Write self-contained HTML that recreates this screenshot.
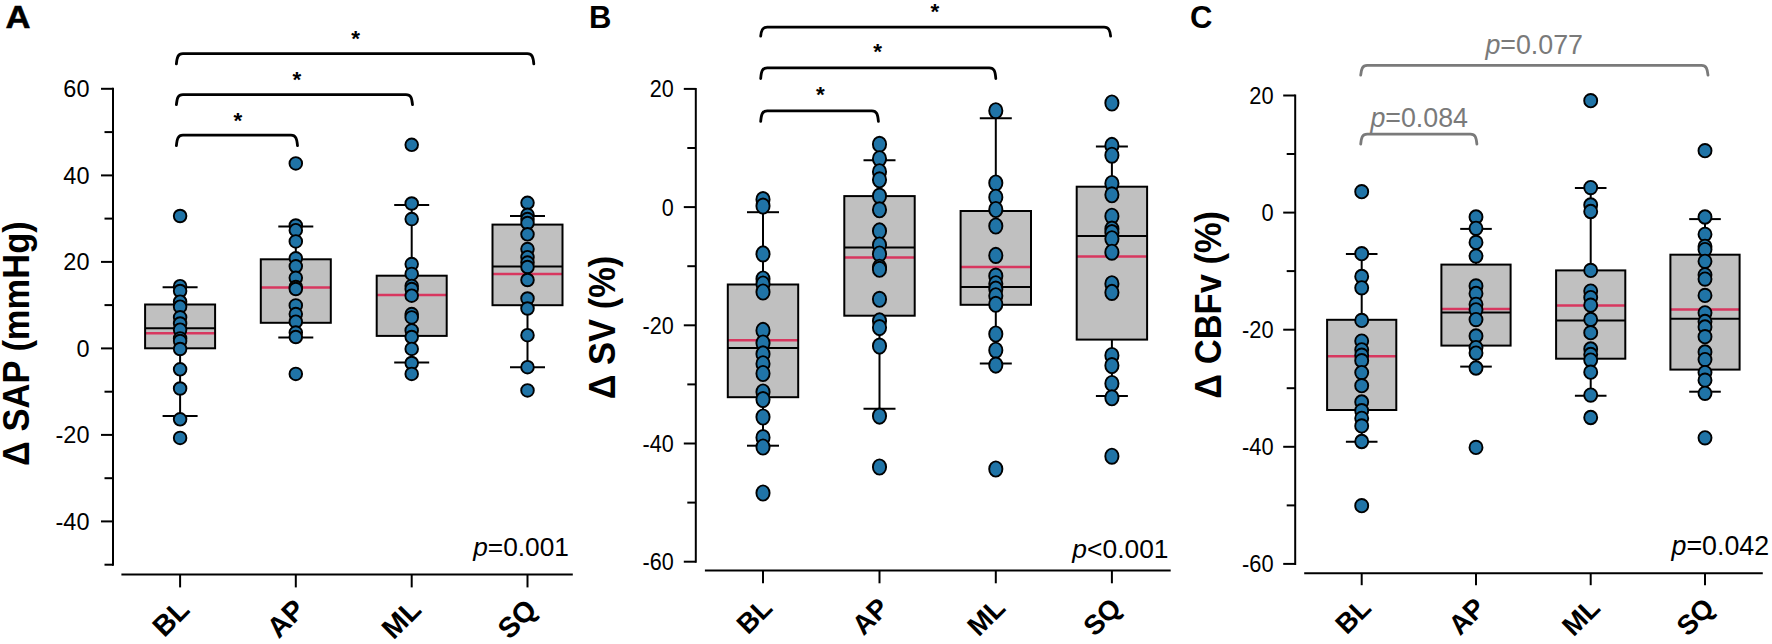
<!DOCTYPE html>
<html><head><meta charset="utf-8"><title>Figure</title>
<style>html,body{margin:0;padding:0;background:#fff;}svg{display:block;}text{font-family:"Liberation Sans", Arial, Helvetica, sans-serif;}</style>
</head><body>
<svg width="1772" height="644" viewBox="0 0 1772 644">
<rect width="1772" height="644" fill="#fff"/>
<text transform="translate(5.5 27.6) scale(1.1 1)" font-size="31.5" font-weight="bold" fill="#000" stroke="#000" stroke-width="0.5">A</text>
<g stroke="#000" stroke-width="2" fill="none">
<line x1="113" y1="87.8" x2="113" y2="565.7"/>
<line x1="104.5" y1="564.7" x2="113" y2="564.7"/>
<line x1="101" y1="521.4" x2="113" y2="521.4"/>
<line x1="104.5" y1="478.2" x2="113" y2="478.2"/>
<line x1="101" y1="434.9" x2="113" y2="434.9"/>
<line x1="104.5" y1="391.7" x2="113" y2="391.7"/>
<line x1="101" y1="348.4" x2="113" y2="348.4"/>
<line x1="104.5" y1="305.1" x2="113" y2="305.1"/>
<line x1="101" y1="261.9" x2="113" y2="261.9"/>
<line x1="104.5" y1="218.6" x2="113" y2="218.6"/>
<line x1="101" y1="175.4" x2="113" y2="175.4"/>
<line x1="104.5" y1="132.1" x2="113" y2="132.1"/>
<line x1="101" y1="88.8" x2="113" y2="88.8"/>
<line x1="121.4" y1="574.4" x2="572.8" y2="574.4"/>
<line x1="180.1" y1="574.4" x2="180.1" y2="587.4"/>
<line x1="295.8" y1="574.4" x2="295.8" y2="587.4"/>
<line x1="411.7" y1="574.4" x2="411.7" y2="587.4"/>
<line x1="527.5" y1="574.4" x2="527.5" y2="587.4"/>
</g>
<text transform="translate(89.5 529.9) scale(1.0 1)" font-size="23.5" text-anchor="end" fill="#000">-40</text>
<text transform="translate(89.5 443.4) scale(1.0 1)" font-size="23.5" text-anchor="end" fill="#000">-20</text>
<text transform="translate(89.5 356.9) scale(1.0 1)" font-size="23.5" text-anchor="end" fill="#000">0</text>
<text transform="translate(89.5 270.4) scale(1.0 1)" font-size="23.5" text-anchor="end" fill="#000">20</text>
<text transform="translate(89.5 183.9) scale(1.0 1)" font-size="23.5" text-anchor="end" fill="#000">40</text>
<text transform="translate(89.5 97.3) scale(1.0 1)" font-size="23.5" text-anchor="end" fill="#000">60</text>
<text transform="translate(28.7 343.6) rotate(-90) scale(0.935 1)" font-size="36.9" font-weight="bold" text-anchor="middle" fill="#000">Δ SAP (mmHg)</text>
<text transform="translate(191.1 611.4) rotate(-45)" font-size="28.5" font-weight="bold" text-anchor="end" fill="#000">BL</text>
<text transform="translate(306.8 611.4) rotate(-45)" font-size="28.5" font-weight="bold" text-anchor="end" fill="#000">AP</text>
<text transform="translate(422.7 611.4) rotate(-45)" font-size="28.5" font-weight="bold" text-anchor="end" fill="#000">ML</text>
<text transform="translate(538.5 611.4) rotate(-45)" font-size="28.5" font-weight="bold" text-anchor="end" fill="#000">SQ</text>
<g stroke="#000" stroke-width="2">
<line x1="180.1" y1="287.2" x2="180.1" y2="304.5"/>
<line x1="180.1" y1="348.3" x2="180.1" y2="415.9"/>
<line x1="162.6" y1="287.2" x2="197.6" y2="287.2"/>
<line x1="162.6" y1="415.9" x2="197.6" y2="415.9"/>
<rect x="145.1" y="304.5" width="70" height="43.8" fill="#c0c0c0" stroke="none"/>
<line x1="145.1" y1="328.2" x2="215.1" y2="328.2"/>
<line x1="145.1" y1="333.2" x2="215.1" y2="333.2" stroke="#d8375f" stroke-width="2.5"/>
<rect x="145.1" y="304.5" width="70" height="43.8" fill="none"/>
</g>
<g stroke="#000" stroke-width="2">
<line x1="295.8" y1="226.5" x2="295.8" y2="259.3"/>
<line x1="295.8" y1="322.8" x2="295.8" y2="337.6"/>
<line x1="278.3" y1="226.5" x2="313.3" y2="226.5"/>
<line x1="278.3" y1="337.6" x2="313.3" y2="337.6"/>
<rect x="260.8" y="259.3" width="70" height="63.5" fill="#c0c0c0" stroke="none"/>
<line x1="260.8" y1="287.6" x2="330.8" y2="287.6" stroke="#d8375f" stroke-width="2.5"/>
<rect x="260.8" y="259.3" width="70" height="63.5" fill="none"/>
</g>
<g stroke="#000" stroke-width="2">
<line x1="411.7" y1="205" x2="411.7" y2="275.7"/>
<line x1="411.7" y1="335.9" x2="411.7" y2="362.6"/>
<line x1="394.2" y1="205" x2="429.2" y2="205"/>
<line x1="394.2" y1="362.6" x2="429.2" y2="362.6"/>
<rect x="376.7" y="275.7" width="70" height="60.2" fill="#c0c0c0" stroke="none"/>
<line x1="376.7" y1="295" x2="446.7" y2="295" stroke="#d8375f" stroke-width="2.5"/>
<rect x="376.7" y="275.7" width="70" height="60.2" fill="none"/>
</g>
<g stroke="#000" stroke-width="2">
<line x1="527.5" y1="215.9" x2="527.5" y2="224.6"/>
<line x1="527.5" y1="305.2" x2="527.5" y2="367.2"/>
<line x1="510" y1="215.9" x2="545" y2="215.9"/>
<line x1="510" y1="367.2" x2="545" y2="367.2"/>
<rect x="492.5" y="224.6" width="70" height="80.6" fill="#c0c0c0" stroke="none"/>
<line x1="492.5" y1="266.5" x2="562.5" y2="266.5"/>
<line x1="492.5" y1="274.1" x2="562.5" y2="274.1" stroke="#d8375f" stroke-width="2.5"/>
<rect x="492.5" y="224.6" width="70" height="80.6" fill="none"/>
</g>
<g fill="#2074a7" stroke="#000" stroke-width="1.9">
<ellipse cx="180.1" cy="216" rx="6.3" ry="6.3"/>
<ellipse cx="180.1" cy="286.2" rx="6.3" ry="6.3"/>
<ellipse cx="180.1" cy="291" rx="6.3" ry="6.3"/>
<ellipse cx="180.1" cy="301.7" rx="6.3" ry="6.3"/>
<ellipse cx="180.1" cy="306.7" rx="6.3" ry="6.3"/>
<ellipse cx="180.1" cy="317.3" rx="6.3" ry="6.3"/>
<ellipse cx="180.1" cy="323.5" rx="6.3" ry="6.3"/>
<ellipse cx="180.1" cy="329.7" rx="6.3" ry="6.3"/>
<ellipse cx="180.1" cy="338.4" rx="6.3" ry="6.3"/>
<ellipse cx="180.1" cy="341" rx="6.3" ry="6.3"/>
<ellipse cx="180.1" cy="349" rx="6.3" ry="6.3"/>
<ellipse cx="180.1" cy="369.3" rx="6.3" ry="6.3"/>
<ellipse cx="180.1" cy="388.5" rx="6.3" ry="6.3"/>
<ellipse cx="180.1" cy="419.3" rx="6.3" ry="6.3"/>
<ellipse cx="180.1" cy="437.9" rx="6.3" ry="6.3"/>
<ellipse cx="295.8" cy="163.4" rx="6.3" ry="6.3"/>
<ellipse cx="295.8" cy="225.5" rx="6.3" ry="6.3"/>
<ellipse cx="295.8" cy="230.2" rx="6.3" ry="6.3"/>
<ellipse cx="295.8" cy="241.4" rx="6.3" ry="6.3"/>
<ellipse cx="295.8" cy="258.3" rx="6.3" ry="6.3"/>
<ellipse cx="295.8" cy="266.3" rx="6.3" ry="6.3"/>
<ellipse cx="295.8" cy="277.8" rx="6.3" ry="6.3"/>
<ellipse cx="295.8" cy="287" rx="6.3" ry="6.3"/>
<ellipse cx="295.8" cy="289" rx="6.3" ry="6.3"/>
<ellipse cx="295.8" cy="305.4" rx="6.3" ry="6.3"/>
<ellipse cx="295.8" cy="314.1" rx="6.3" ry="6.3"/>
<ellipse cx="295.8" cy="321.7" rx="6.3" ry="6.3"/>
<ellipse cx="295.8" cy="332.6" rx="6.3" ry="6.3"/>
<ellipse cx="295.8" cy="337" rx="6.3" ry="6.3"/>
<ellipse cx="295.8" cy="373.9" rx="6.3" ry="6.3"/>
<ellipse cx="411.7" cy="144.8" rx="6.3" ry="6.3"/>
<ellipse cx="411.7" cy="203.5" rx="6.3" ry="6.3"/>
<ellipse cx="411.7" cy="219.1" rx="6.3" ry="6.3"/>
<ellipse cx="411.7" cy="264.1" rx="6.3" ry="6.3"/>
<ellipse cx="411.7" cy="273.9" rx="6.3" ry="6.3"/>
<ellipse cx="411.7" cy="285.9" rx="6.3" ry="6.3"/>
<ellipse cx="411.7" cy="289.1" rx="6.3" ry="6.3"/>
<ellipse cx="411.7" cy="295.7" rx="6.3" ry="6.3"/>
<ellipse cx="411.7" cy="314.1" rx="6.3" ry="6.3"/>
<ellipse cx="411.7" cy="317.4" rx="6.3" ry="6.3"/>
<ellipse cx="411.7" cy="330.4" rx="6.3" ry="6.3"/>
<ellipse cx="411.7" cy="337" rx="6.3" ry="6.3"/>
<ellipse cx="411.7" cy="348.9" rx="6.3" ry="6.3"/>
<ellipse cx="411.7" cy="363" rx="6.3" ry="6.3"/>
<ellipse cx="411.7" cy="373.9" rx="6.3" ry="6.3"/>
<ellipse cx="527.5" cy="202.8" rx="6.3" ry="6.3"/>
<ellipse cx="527.5" cy="214.8" rx="6.3" ry="6.3"/>
<ellipse cx="527.5" cy="219.1" rx="6.3" ry="6.3"/>
<ellipse cx="527.5" cy="223" rx="6.3" ry="6.3"/>
<ellipse cx="527.5" cy="234.3" rx="6.3" ry="6.3"/>
<ellipse cx="527.5" cy="249.1" rx="6.3" ry="6.3"/>
<ellipse cx="527.5" cy="257.2" rx="6.3" ry="6.3"/>
<ellipse cx="527.5" cy="262.6" rx="6.3" ry="6.3"/>
<ellipse cx="527.5" cy="267" rx="6.3" ry="6.3"/>
<ellipse cx="527.5" cy="280" rx="6.3" ry="6.3"/>
<ellipse cx="527.5" cy="298.5" rx="6.3" ry="6.3"/>
<ellipse cx="527.5" cy="308.5" rx="6.3" ry="6.3"/>
<ellipse cx="527.5" cy="335.2" rx="6.3" ry="6.3"/>
<ellipse cx="527.5" cy="367.2" rx="6.3" ry="6.3"/>
<ellipse cx="527.5" cy="390.4" rx="6.3" ry="6.3"/>
</g>
<path d="M176.4 145.7 C177 138.7 178 135.2 182.9 135.2 L291 135.2 C295.9 135.2 296.9 138.7 297.5 145.7" fill="none" stroke="#000" stroke-width="2.8" stroke-linecap="round"/>
<text x="237.8" y="128.4" font-size="22.5" font-weight="bold" text-anchor="middle" fill="#000">*</text>
<path d="M176.4 104.6 C177 98.1 178 94.6 182.9 94.6 L406 94.6 C410.9 94.6 411.9 98.1 412.5 104.6" fill="none" stroke="#000" stroke-width="2.8" stroke-linecap="round"/>
<text x="296.8" y="86.9" font-size="22.5" font-weight="bold" text-anchor="middle" fill="#000">*</text>
<path d="M176.4 63.8 C177 57.2 178 53.7 182.9 53.7 L527.3 53.7 C532.2 53.7 533.2 57.2 533.8 63.8" fill="none" stroke="#000" stroke-width="2.8" stroke-linecap="round"/>
<text x="355.7" y="46.4" font-size="22.5" font-weight="bold" text-anchor="middle" fill="#000">*</text>
<text x="569" y="555.9" font-size="26.3" text-anchor="end" fill="#000"><tspan font-style="italic">p</tspan>=0.001</text>
<text x="589" y="28" font-size="31" font-weight="bold" fill="#000">B</text>
<g stroke="#000" stroke-width="2" fill="none">
<line x1="695.8" y1="87.9" x2="695.8" y2="562.7"/>
<line x1="683.8" y1="561.7" x2="695.8" y2="561.7"/>
<line x1="687.3" y1="502.6" x2="695.8" y2="502.6"/>
<line x1="683.8" y1="443.5" x2="695.8" y2="443.5"/>
<line x1="687.3" y1="384.4" x2="695.8" y2="384.4"/>
<line x1="683.8" y1="325.3" x2="695.8" y2="325.3"/>
<line x1="687.3" y1="266.2" x2="695.8" y2="266.2"/>
<line x1="683.8" y1="207.1" x2="695.8" y2="207.1"/>
<line x1="687.3" y1="148" x2="695.8" y2="148"/>
<line x1="683.8" y1="88.9" x2="695.8" y2="88.9"/>
<line x1="704.9" y1="570.5" x2="1170.7" y2="570.5"/>
<line x1="763" y1="570.5" x2="763" y2="583.3"/>
<line x1="879.5" y1="570.5" x2="879.5" y2="583.3"/>
<line x1="995.8" y1="570.5" x2="995.8" y2="583.3"/>
<line x1="1111.9" y1="570.5" x2="1111.9" y2="583.3"/>
</g>
<text transform="translate(673.8 570.2) scale(0.92 1)" font-size="23.5" text-anchor="end" fill="#000">-60</text>
<text transform="translate(673.8 452) scale(0.92 1)" font-size="23.5" text-anchor="end" fill="#000">-40</text>
<text transform="translate(673.8 333.8) scale(0.92 1)" font-size="23.5" text-anchor="end" fill="#000">-20</text>
<text transform="translate(673.8 215.6) scale(0.92 1)" font-size="23.5" text-anchor="end" fill="#000">0</text>
<text transform="translate(673.8 97.4) scale(0.92 1)" font-size="23.5" text-anchor="end" fill="#000">20</text>
<text transform="translate(614.7 327.5) rotate(-90) scale(0.935 1)" font-size="36.9" font-weight="bold" text-anchor="middle" fill="#000">Δ SV (%)</text>
<text transform="translate(774 609.5) rotate(-45)" font-size="27.5" font-weight="bold" text-anchor="end" fill="#000">BL</text>
<text transform="translate(890.5 609.5) rotate(-45)" font-size="27.5" font-weight="bold" text-anchor="end" fill="#000">AP</text>
<text transform="translate(1006.8 609.5) rotate(-45)" font-size="27.5" font-weight="bold" text-anchor="end" fill="#000">ML</text>
<text transform="translate(1122.9 609.5) rotate(-45)" font-size="27.5" font-weight="bold" text-anchor="end" fill="#000">SQ</text>
<g stroke="#000" stroke-width="2">
<line x1="763" y1="212.2" x2="763" y2="284.5"/>
<line x1="763" y1="397.2" x2="763" y2="445.7"/>
<line x1="747" y1="212.2" x2="779" y2="212.2"/>
<line x1="747" y1="445.7" x2="779" y2="445.7"/>
<rect x="727.8" y="284.5" width="70.4" height="112.7" fill="#c0c0c0" stroke="none"/>
<line x1="727.8" y1="348" x2="798.2" y2="348"/>
<line x1="727.8" y1="340.2" x2="798.2" y2="340.2" stroke="#d8375f" stroke-width="2.5"/>
<rect x="727.8" y="284.5" width="70.4" height="112.7" fill="none"/>
</g>
<g stroke="#000" stroke-width="2">
<line x1="879.5" y1="160.2" x2="879.5" y2="196.1"/>
<line x1="879.5" y1="315.7" x2="879.5" y2="408.7"/>
<line x1="863.5" y1="160.2" x2="895.5" y2="160.2"/>
<line x1="863.5" y1="408.7" x2="895.5" y2="408.7"/>
<rect x="844.3" y="196.1" width="70.4" height="119.6" fill="#c0c0c0" stroke="none"/>
<line x1="844.3" y1="247.6" x2="914.7" y2="247.6"/>
<line x1="844.3" y1="257.4" x2="914.7" y2="257.4" stroke="#d8375f" stroke-width="2.5"/>
<rect x="844.3" y="196.1" width="70.4" height="119.6" fill="none"/>
</g>
<g stroke="#000" stroke-width="2">
<line x1="995.8" y1="118.3" x2="995.8" y2="211"/>
<line x1="995.8" y1="304.8" x2="995.8" y2="363.6"/>
<line x1="979.8" y1="118.3" x2="1011.8" y2="118.3"/>
<line x1="979.8" y1="363.6" x2="1011.8" y2="363.6"/>
<rect x="960.6" y="211" width="70.4" height="93.8" fill="#c0c0c0" stroke="none"/>
<line x1="960.6" y1="287" x2="1031" y2="287"/>
<line x1="960.6" y1="267" x2="1031" y2="267" stroke="#d8375f" stroke-width="2.5"/>
<rect x="960.6" y="211" width="70.4" height="93.8" fill="none"/>
</g>
<g stroke="#000" stroke-width="2">
<line x1="1111.9" y1="146.5" x2="1111.9" y2="186.7"/>
<line x1="1111.9" y1="339.6" x2="1111.9" y2="396.1"/>
<line x1="1095.9" y1="146.5" x2="1127.9" y2="146.5"/>
<line x1="1095.9" y1="396.1" x2="1127.9" y2="396.1"/>
<rect x="1076.7" y="186.7" width="70.4" height="152.9" fill="#c0c0c0" stroke="none"/>
<line x1="1076.7" y1="235.9" x2="1147.1" y2="235.9"/>
<line x1="1076.7" y1="256.5" x2="1147.1" y2="256.5" stroke="#d8375f" stroke-width="2.5"/>
<rect x="1076.7" y="186.7" width="70.4" height="152.9" fill="none"/>
</g>
<g fill="#2074a7" stroke="#000" stroke-width="1.9">
<ellipse cx="763" cy="199.6" rx="6.6" ry="7.6"/>
<ellipse cx="763" cy="206.1" rx="6.6" ry="7.6"/>
<ellipse cx="763" cy="253.9" rx="6.6" ry="7.6"/>
<ellipse cx="763" cy="279" rx="6.6" ry="7.6"/>
<ellipse cx="763" cy="284" rx="6.6" ry="7.6"/>
<ellipse cx="763" cy="292" rx="6.6" ry="7.6"/>
<ellipse cx="763" cy="330.4" rx="6.6" ry="7.6"/>
<ellipse cx="763" cy="343" rx="6.6" ry="7.6"/>
<ellipse cx="763" cy="353.9" rx="6.6" ry="7.6"/>
<ellipse cx="763" cy="363.7" rx="6.6" ry="7.6"/>
<ellipse cx="763" cy="373.5" rx="6.6" ry="7.6"/>
<ellipse cx="763" cy="392" rx="6.6" ry="7.6"/>
<ellipse cx="763" cy="399.6" rx="6.6" ry="7.6"/>
<ellipse cx="763" cy="417" rx="6.6" ry="7.6"/>
<ellipse cx="763" cy="437.6" rx="6.6" ry="7.6"/>
<ellipse cx="763" cy="447" rx="6.6" ry="7.6"/>
<ellipse cx="763" cy="493" rx="6.6" ry="7.6"/>
<ellipse cx="879.5" cy="144.3" rx="6.6" ry="7.6"/>
<ellipse cx="879.5" cy="158.7" rx="6.6" ry="7.6"/>
<ellipse cx="879.5" cy="171.7" rx="6.6" ry="7.6"/>
<ellipse cx="879.5" cy="179.8" rx="6.6" ry="7.6"/>
<ellipse cx="879.5" cy="196.1" rx="6.6" ry="7.6"/>
<ellipse cx="879.5" cy="209.8" rx="6.6" ry="7.6"/>
<ellipse cx="879.5" cy="230.9" rx="6.6" ry="7.6"/>
<ellipse cx="879.5" cy="245" rx="6.6" ry="7.6"/>
<ellipse cx="879.5" cy="254" rx="6.6" ry="7.6"/>
<ellipse cx="879.5" cy="267.2" rx="6.6" ry="7.6"/>
<ellipse cx="879.5" cy="269.3" rx="6.6" ry="7.6"/>
<ellipse cx="879.5" cy="299.3" rx="6.6" ry="7.6"/>
<ellipse cx="879.5" cy="320.9" rx="6.6" ry="7.6"/>
<ellipse cx="879.5" cy="327.6" rx="6.6" ry="7.6"/>
<ellipse cx="879.5" cy="346.1" rx="6.6" ry="7.6"/>
<ellipse cx="879.5" cy="416.1" rx="6.6" ry="7.6"/>
<ellipse cx="879.5" cy="467" rx="6.6" ry="7.6"/>
<ellipse cx="995.8" cy="110.7" rx="6.6" ry="7.6"/>
<ellipse cx="995.8" cy="183" rx="6.6" ry="7.6"/>
<ellipse cx="995.8" cy="197.2" rx="6.6" ry="7.6"/>
<ellipse cx="995.8" cy="209.5" rx="6.6" ry="7.6"/>
<ellipse cx="995.8" cy="226" rx="6.6" ry="7.6"/>
<ellipse cx="995.8" cy="255.4" rx="6.6" ry="7.6"/>
<ellipse cx="995.8" cy="276.1" rx="6.6" ry="7.6"/>
<ellipse cx="995.8" cy="283.7" rx="6.6" ry="7.6"/>
<ellipse cx="995.8" cy="289.1" rx="6.6" ry="7.6"/>
<ellipse cx="995.8" cy="295.7" rx="6.6" ry="7.6"/>
<ellipse cx="995.8" cy="304.3" rx="6.6" ry="7.6"/>
<ellipse cx="995.8" cy="334" rx="6.6" ry="7.6"/>
<ellipse cx="995.8" cy="350.2" rx="6.6" ry="7.6"/>
<ellipse cx="995.8" cy="365.1" rx="6.6" ry="7.6"/>
<ellipse cx="995.8" cy="469" rx="6.6" ry="7.6"/>
<ellipse cx="1111.9" cy="103" rx="6.6" ry="7.6"/>
<ellipse cx="1111.9" cy="145.4" rx="6.6" ry="7.6"/>
<ellipse cx="1111.9" cy="155.2" rx="6.6" ry="7.6"/>
<ellipse cx="1111.9" cy="183.5" rx="6.6" ry="7.6"/>
<ellipse cx="1111.9" cy="194.8" rx="6.6" ry="7.6"/>
<ellipse cx="1111.9" cy="216.2" rx="6.6" ry="7.6"/>
<ellipse cx="1111.9" cy="229.1" rx="6.6" ry="7.6"/>
<ellipse cx="1111.9" cy="232.6" rx="6.6" ry="7.6"/>
<ellipse cx="1111.9" cy="238.7" rx="6.6" ry="7.6"/>
<ellipse cx="1111.9" cy="252.2" rx="6.6" ry="7.6"/>
<ellipse cx="1111.9" cy="283.7" rx="6.6" ry="7.6"/>
<ellipse cx="1111.9" cy="292.4" rx="6.6" ry="7.6"/>
<ellipse cx="1111.9" cy="355.5" rx="6.6" ry="7.6"/>
<ellipse cx="1111.9" cy="365.6" rx="6.6" ry="7.6"/>
<ellipse cx="1111.9" cy="383.5" rx="6.6" ry="7.6"/>
<ellipse cx="1111.9" cy="397.8" rx="6.6" ry="7.6"/>
<ellipse cx="1111.9" cy="456.2" rx="6.6" ry="7.6"/>
</g>
<path d="M760.7 121.4 C761.3 114.4 762.3 110.9 767.2 110.9 L871.9 110.9 C876.8 110.9 877.8 114.4 878.4 121.4" fill="none" stroke="#000" stroke-width="2.8" stroke-linecap="round"/>
<text x="820.4" y="102.4" font-size="22.5" font-weight="bold" text-anchor="middle" fill="#000">*</text>
<path d="M760.7 78.5 C761.3 71.3 762.3 67.8 767.2 67.8 L989.3 67.8 C994.2 67.8 995.2 71.3 995.8 78.5" fill="none" stroke="#000" stroke-width="2.8" stroke-linecap="round"/>
<text x="877.6" y="59.4" font-size="22.5" font-weight="bold" text-anchor="middle" fill="#000">*</text>
<path d="M760.7 36.2 C761.3 30.7 762.3 27.2 767.2 27.2 L1104.1 27.2 C1109 27.2 1110 30.7 1110.6 36.2" fill="none" stroke="#000" stroke-width="2.8" stroke-linecap="round"/>
<text x="935" y="18.9" font-size="22.5" font-weight="bold" text-anchor="middle" fill="#000">*</text>
<text x="1168.5" y="557.9" font-size="26.4" text-anchor="end" fill="#000"><tspan font-style="italic">p</tspan>&lt;0.001</text>
<text x="1190" y="28" font-size="31" font-weight="bold" fill="#000">C</text>
<g stroke="#000" stroke-width="2" fill="none">
<line x1="1295.2" y1="94.5" x2="1295.2" y2="564.9"/>
<line x1="1283.2" y1="563.9" x2="1295.2" y2="563.9"/>
<line x1="1286.7" y1="505.4" x2="1295.2" y2="505.4"/>
<line x1="1283.2" y1="446.8" x2="1295.2" y2="446.8"/>
<line x1="1286.7" y1="388.2" x2="1295.2" y2="388.2"/>
<line x1="1283.2" y1="329.7" x2="1295.2" y2="329.7"/>
<line x1="1286.7" y1="271.1" x2="1295.2" y2="271.1"/>
<line x1="1283.2" y1="212.6" x2="1295.2" y2="212.6"/>
<line x1="1286.7" y1="154" x2="1295.2" y2="154"/>
<line x1="1283.2" y1="95.5" x2="1295.2" y2="95.5"/>
<line x1="1304.2" y1="573.2" x2="1762.8" y2="573.2"/>
<line x1="1361.7" y1="573.2" x2="1361.7" y2="585.2"/>
<line x1="1476" y1="573.2" x2="1476" y2="585.2"/>
<line x1="1590.7" y1="573.2" x2="1590.7" y2="585.2"/>
<line x1="1705" y1="573.2" x2="1705" y2="585.2"/>
</g>
<text transform="translate(1273.6 572.4) scale(0.93 1)" font-size="23.5" text-anchor="end" fill="#000">-60</text>
<text transform="translate(1273.6 455.3) scale(0.93 1)" font-size="23.5" text-anchor="end" fill="#000">-40</text>
<text transform="translate(1273.6 338.2) scale(0.93 1)" font-size="23.5" text-anchor="end" fill="#000">-20</text>
<text transform="translate(1273.6 221.1) scale(0.93 1)" font-size="23.5" text-anchor="end" fill="#000">0</text>
<text transform="translate(1273.6 104) scale(0.93 1)" font-size="23.5" text-anchor="end" fill="#000">20</text>
<text transform="translate(1220.6 304.8) rotate(-90) scale(0.935 1)" font-size="36.9" font-weight="bold" text-anchor="middle" fill="#000">Δ CBFv (%)</text>
<text transform="translate(1372.7 609.5) rotate(-45)" font-size="27.5" font-weight="bold" text-anchor="end" fill="#000">BL</text>
<text transform="translate(1487 609.5) rotate(-45)" font-size="27.5" font-weight="bold" text-anchor="end" fill="#000">AP</text>
<text transform="translate(1601.7 609.5) rotate(-45)" font-size="27.5" font-weight="bold" text-anchor="end" fill="#000">ML</text>
<text transform="translate(1716 609.5) rotate(-45)" font-size="27.5" font-weight="bold" text-anchor="end" fill="#000">SQ</text>
<g stroke="#000" stroke-width="2">
<line x1="1361.7" y1="254.1" x2="1361.7" y2="319.8"/>
<line x1="1361.7" y1="410" x2="1361.7" y2="441.7"/>
<line x1="1345.9" y1="254.1" x2="1377.5" y2="254.1"/>
<line x1="1345.9" y1="441.7" x2="1377.5" y2="441.7"/>
<rect x="1327.1" y="319.8" width="69.2" height="90.2" fill="#c0c0c0" stroke="none"/>
<line x1="1327.1" y1="356.3" x2="1396.3" y2="356.3" stroke="#d8375f" stroke-width="2.5"/>
<rect x="1327.1" y="319.8" width="69.2" height="90.2" fill="none"/>
</g>
<g stroke="#000" stroke-width="2">
<line x1="1476" y1="228.9" x2="1476" y2="264.6"/>
<line x1="1476" y1="345.6" x2="1476" y2="366.6"/>
<line x1="1460.2" y1="228.9" x2="1491.8" y2="228.9"/>
<line x1="1460.2" y1="366.6" x2="1491.8" y2="366.6"/>
<rect x="1441.4" y="264.6" width="69.2" height="81" fill="#c0c0c0" stroke="none"/>
<line x1="1441.4" y1="312.6" x2="1510.6" y2="312.6"/>
<line x1="1441.4" y1="308.9" x2="1510.6" y2="308.9" stroke="#d8375f" stroke-width="2.5"/>
<rect x="1441.4" y="264.6" width="69.2" height="81" fill="none"/>
</g>
<g stroke="#000" stroke-width="2">
<line x1="1590.7" y1="188" x2="1590.7" y2="270.4"/>
<line x1="1590.7" y1="358.7" x2="1590.7" y2="395.7"/>
<line x1="1574.9" y1="188" x2="1606.5" y2="188"/>
<line x1="1574.9" y1="395.7" x2="1606.5" y2="395.7"/>
<rect x="1556.1" y="270.4" width="69.2" height="88.3" fill="#c0c0c0" stroke="none"/>
<line x1="1556.1" y1="320.5" x2="1625.3" y2="320.5"/>
<line x1="1556.1" y1="305.6" x2="1625.3" y2="305.6" stroke="#d8375f" stroke-width="2.5"/>
<rect x="1556.1" y="270.4" width="69.2" height="88.3" fill="none"/>
</g>
<g stroke="#000" stroke-width="2">
<line x1="1705" y1="219.1" x2="1705" y2="254.7"/>
<line x1="1705" y1="369.6" x2="1705" y2="391.7"/>
<line x1="1689.2" y1="219.1" x2="1720.8" y2="219.1"/>
<line x1="1689.2" y1="391.7" x2="1720.8" y2="391.7"/>
<rect x="1670.4" y="254.7" width="69.2" height="114.9" fill="#c0c0c0" stroke="none"/>
<line x1="1670.4" y1="318.7" x2="1739.6" y2="318.7"/>
<line x1="1670.4" y1="309.6" x2="1739.6" y2="309.6" stroke="#d8375f" stroke-width="2.5"/>
<rect x="1670.4" y="254.7" width="69.2" height="114.9" fill="none"/>
</g>
<g fill="#2074a7" stroke="#000" stroke-width="1.9">
<ellipse cx="1361.7" cy="191.7" rx="6.5" ry="6.7"/>
<ellipse cx="1361.7" cy="253.7" rx="6.5" ry="6.7"/>
<ellipse cx="1361.7" cy="276.5" rx="6.5" ry="6.7"/>
<ellipse cx="1361.7" cy="287.8" rx="6.5" ry="6.7"/>
<ellipse cx="1361.7" cy="320.4" rx="6.5" ry="6.7"/>
<ellipse cx="1361.7" cy="341.1" rx="6.5" ry="6.7"/>
<ellipse cx="1361.7" cy="349.8" rx="6.5" ry="6.7"/>
<ellipse cx="1361.7" cy="355.2" rx="6.5" ry="6.7"/>
<ellipse cx="1361.7" cy="360.7" rx="6.5" ry="6.7"/>
<ellipse cx="1361.7" cy="372.6" rx="6.5" ry="6.7"/>
<ellipse cx="1361.7" cy="385.7" rx="6.5" ry="6.7"/>
<ellipse cx="1361.7" cy="402" rx="6.5" ry="6.7"/>
<ellipse cx="1361.7" cy="410.7" rx="6.5" ry="6.7"/>
<ellipse cx="1361.7" cy="418.3" rx="6.5" ry="6.7"/>
<ellipse cx="1361.7" cy="425.9" rx="6.5" ry="6.7"/>
<ellipse cx="1361.7" cy="441.5" rx="6.5" ry="6.7"/>
<ellipse cx="1361.7" cy="505.7" rx="6.5" ry="6.7"/>
<ellipse cx="1476" cy="217" rx="6.5" ry="6.7"/>
<ellipse cx="1476" cy="228.3" rx="6.5" ry="6.7"/>
<ellipse cx="1476" cy="242.4" rx="6.5" ry="6.7"/>
<ellipse cx="1476" cy="256.1" rx="6.5" ry="6.7"/>
<ellipse cx="1476" cy="285.9" rx="6.5" ry="6.7"/>
<ellipse cx="1476" cy="293.5" rx="6.5" ry="6.7"/>
<ellipse cx="1476" cy="304.3" rx="6.5" ry="6.7"/>
<ellipse cx="1476" cy="309.8" rx="6.5" ry="6.7"/>
<ellipse cx="1476" cy="319.6" rx="6.5" ry="6.7"/>
<ellipse cx="1476" cy="336" rx="6.5" ry="6.7"/>
<ellipse cx="1476" cy="347.6" rx="6.5" ry="6.7"/>
<ellipse cx="1476" cy="353.1" rx="6.5" ry="6.7"/>
<ellipse cx="1476" cy="368" rx="6.5" ry="6.7"/>
<ellipse cx="1476" cy="447.4" rx="6.5" ry="6.7"/>
<ellipse cx="1590.7" cy="100.7" rx="6.5" ry="6.7"/>
<ellipse cx="1590.7" cy="187.6" rx="6.5" ry="6.7"/>
<ellipse cx="1590.7" cy="205" rx="6.5" ry="6.7"/>
<ellipse cx="1590.7" cy="211.5" rx="6.5" ry="6.7"/>
<ellipse cx="1590.7" cy="270.4" rx="6.5" ry="6.7"/>
<ellipse cx="1590.7" cy="291.1" rx="6.5" ry="6.7"/>
<ellipse cx="1590.7" cy="297.6" rx="6.5" ry="6.7"/>
<ellipse cx="1590.7" cy="305.2" rx="6.5" ry="6.7"/>
<ellipse cx="1590.7" cy="319.5" rx="6.5" ry="6.7"/>
<ellipse cx="1590.7" cy="332.7" rx="6.5" ry="6.7"/>
<ellipse cx="1590.7" cy="349" rx="6.5" ry="6.7"/>
<ellipse cx="1590.7" cy="354.5" rx="6.5" ry="6.7"/>
<ellipse cx="1590.7" cy="360.1" rx="6.5" ry="6.7"/>
<ellipse cx="1590.7" cy="372.2" rx="6.5" ry="6.7"/>
<ellipse cx="1590.7" cy="395.1" rx="6.5" ry="6.7"/>
<ellipse cx="1590.7" cy="417.5" rx="6.5" ry="6.7"/>
<ellipse cx="1705" cy="150.7" rx="6.5" ry="6.7"/>
<ellipse cx="1705" cy="217" rx="6.5" ry="6.7"/>
<ellipse cx="1705" cy="234.3" rx="6.5" ry="6.7"/>
<ellipse cx="1705" cy="246.3" rx="6.5" ry="6.7"/>
<ellipse cx="1705" cy="249.6" rx="6.5" ry="6.7"/>
<ellipse cx="1705" cy="261.3" rx="6.5" ry="6.7"/>
<ellipse cx="1705" cy="274.8" rx="6.5" ry="6.7"/>
<ellipse cx="1705" cy="279.1" rx="6.5" ry="6.7"/>
<ellipse cx="1705" cy="295.4" rx="6.5" ry="6.7"/>
<ellipse cx="1705" cy="312.8" rx="6.5" ry="6.7"/>
<ellipse cx="1705" cy="321.5" rx="6.5" ry="6.7"/>
<ellipse cx="1705" cy="327" rx="6.5" ry="6.7"/>
<ellipse cx="1705" cy="336.7" rx="6.5" ry="6.7"/>
<ellipse cx="1705" cy="352" rx="6.5" ry="6.7"/>
<ellipse cx="1705" cy="359.6" rx="6.5" ry="6.7"/>
<ellipse cx="1705" cy="372.6" rx="6.5" ry="6.7"/>
<ellipse cx="1705" cy="380.2" rx="6.5" ry="6.7"/>
<ellipse cx="1705" cy="393.3" rx="6.5" ry="6.7"/>
<ellipse cx="1705" cy="437.8" rx="6.5" ry="6.7"/>
</g>
<path d="M1360.7 144.2 C1361.3 137.6 1362.3 134.1 1367.2 134.1 L1470.4 134.1 C1475.3 134.1 1476.3 137.6 1476.9 144.2" fill="none" stroke="#7a7a7a" stroke-width="2.8" stroke-linecap="round"/>
<text x="1370.4" y="126.5" font-size="26.8" fill="#7a7a7a"><tspan font-style="italic">p</tspan>=0.084</text>
<path d="M1360.7 75.2 C1361.3 68.9 1362.3 65.4 1367.2 65.4 L1701.5 65.4 C1706.4 65.4 1707.4 68.9 1708 75.2" fill="none" stroke="#7a7a7a" stroke-width="2.8" stroke-linecap="round"/>
<text x="1485.4" y="53.6" font-size="26.8" fill="#7a7a7a"><tspan font-style="italic">p</tspan>=0.077</text>
<text x="1769.2" y="555.4" font-size="26.8" text-anchor="end" fill="#000"><tspan font-style="italic">p</tspan>=0.042</text>
</svg>
</body></html>
